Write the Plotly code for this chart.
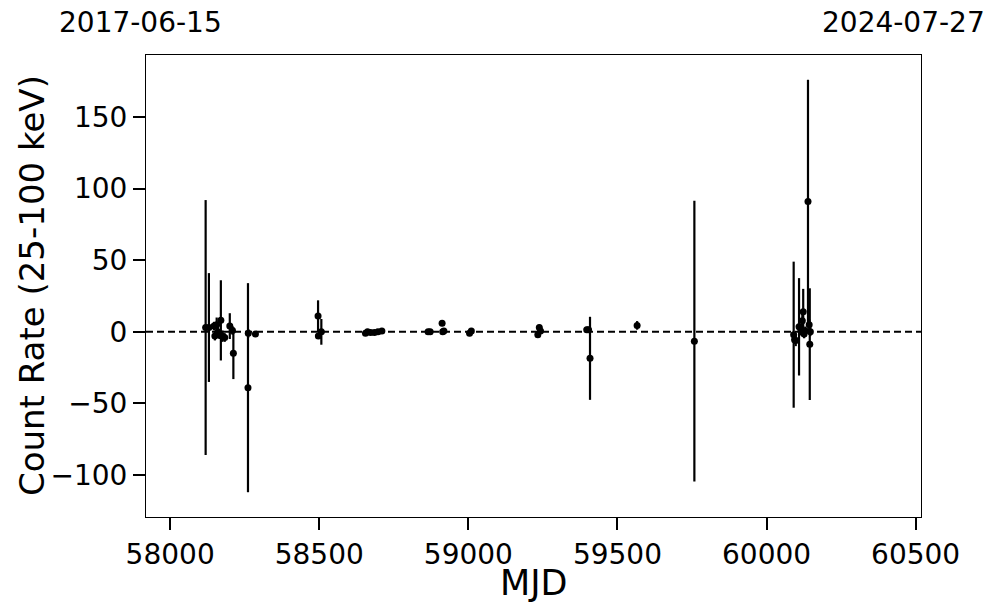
import plotly.graph_objects as go

mjd = [58119, 58130, 58147, 58150, 58156, 58160, 58165, 58170, 58175, 58183,
       58200, 58209, 58212, 58261, 58262, 58286,
       58496, 58497, 58507, 58655, 58662, 58672, 58685, 58697, 58710,
       58865, 58872, 58912, 58914, 58918, 59004, 59010,
       59233, 59238, 59242, 59397, 59403, 59408, 59566, 59758,
       60091, 60094, 60098, 60109, 60115, 60120, 60123, 60126, 60130,
       60139, 60143, 60145, 60147]
rate = [3, 3, 4, -3, 5, 0, -2, 8, -3, -4,
        4, 1, -15, -39, -1, -1.5,
        11, -3, 0, -1, 0, -0.5, -0.5, 0, 0.5,
        0, 0, 6, 0, 0.5, -1, 0.5,
        -2, 3, 0.5, 1.5, 1.5, -18.5, 4.5, -6.5,
        -2, -5.5, -6, 3.5, 1.5, 7.7, 14, -1.5, 0.7,
        91, 4.9, -8.6, 0]
err = [89, 38, 3, 3, 5, 4, 3, 28, 4, 3,
       9, 3, 18, 73, 3, 1.5,
       11, 2, 9, 1.5, 1, 1, 1, 1, 1,
       1, 1, 2, 2, 2, 2, 1,
       2, 2, 1, 2, 2, 29, 3, 98,
       51, 3, 4, 34, 4, 6, 16, 3, 3,
       85, 4, 39, 3]

x_ticks = [58000, 58500, 59000, 59500, 60000, 60500]
y_ticks = [-100, -50, 0, 50, 100, 150]
x_range = [57919, 60518]
y_range = [-129.3, 193.3]
start_label = "2017-06-15"
end_label = "2024-07-27"

FONT = "DejaVu Sans"

fig = go.Figure()
fig.add_trace(go.Scatter(
    x=mjd, y=rate, mode="markers",
    marker=dict(color="black", size=7),
    error_y=dict(type="data", array=err, visible=True, color="black",
                 thickness=2.2, width=0),
    showlegend=False,
))

fig.add_shape(type="line", xref="paper", yref="y", x0=0, x1=1, y0=0, y1=0,
              line=dict(color="black", width=2, dash="7px,4px"))

fig.add_annotation(text=start_label, xref="paper", yref="paper",
                   x=-0.1148, y=1.0714, xanchor="left", yanchor="middle",
                   showarrow=False, font=dict(family=FONT, size=28, color="black"))
fig.add_annotation(text=end_label, xref="paper", yref="paper",
                   x=1.085, y=1.0714, xanchor="right", yanchor="middle",
                   showarrow=False, font=dict(family=FONT, size=28, color="black"))
fig.add_annotation(text="MJD", xref="paper", yref="paper",
                   x=0.5, y=-0.1429, xanchor="center", yanchor="middle",
                   showarrow=False, font=dict(family=FONT, size=35, color="black"))
fig.add_annotation(text="Count Rate (25-100 keV)", xref="paper", yref="paper",
                   x=-0.147, y=0.5, xanchor="center", yanchor="middle",
                   textangle=-90, showarrow=False,
                   font=dict(family=FONT, size=34, color="black"))

axis_common = dict(
    showline=True, linecolor="black", linewidth=1, mirror=True,
    showgrid=False, zeroline=False, automargin=False,
    ticks="outside", ticklen=12, tickwidth=2, tickcolor="black",
    tickfont=dict(family=FONT, size=28, color="black"),
)

fig.update_xaxes(range=x_range, tickvals=x_ticks,
                 ticktext=[str(v) for v in x_ticks],
                 **axis_common)
fig.update_yaxes(range=y_range, tickvals=y_ticks, **axis_common)

fig.update_layout(
    width=997, height=613,
    margin=dict(l=146, r=76, t=55, b=96, autoexpand=False),
    plot_bgcolor="white", paper_bgcolor="white",
    font=dict(family=FONT, color="black"),
)

fig.write_html("out.html",
               config={"displayModeBar": False},
               post_script="document.body.style.margin='0';document.body.style.overflow='hidden';")
